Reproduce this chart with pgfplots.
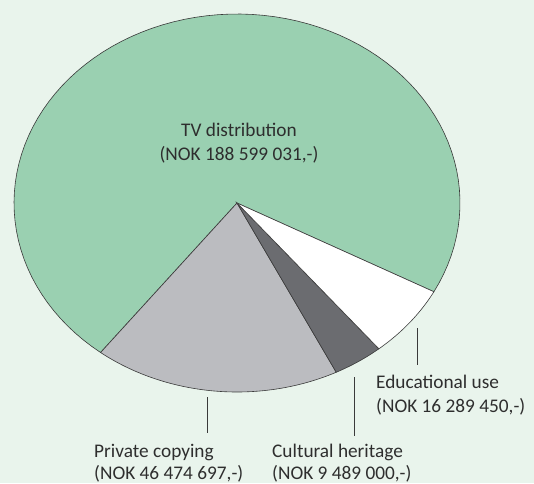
\documentclass[border=0pt]{standalone}
\usepackage{fontspec}
\setmainfont{Carlito}
\usepackage{pgfplots}
\pgfplotsset{compat=1.18}

\definecolor{bgc}{HTML}{E9F4EC}
\definecolor{tv}{HTML}{9AD0B1}
\definecolor{priv}{HTML}{BBBCC0}
\definecolor{cult}{HTML}{6B6C70}
\definecolor{edge}{HTML}{3A3A3A}
\definecolor{txt}{HTML}{2E2E2E}

% values in million NOK
\def\vEdu{16.28945}
\def\vCult{9.489}
\def\vPriv{46.474697}
\def\vTV{188.599031}

\pgfmathsetmacro\tot{\vEdu+\vCult+\vPriv+\vTV}
\pgfmathsetmacro\aA{-28}
\pgfmathsetmacro\aB{\aA-360*(\vEdu/\tot)}
\pgfmathsetmacro\aC{\aB-360*(\vCult/\tot)}
\pgfmathsetmacro\aD{\aC-360*(\vPriv/\tot)}
\pgfmathsetmacro\aE{\aD-360*(\vTV/\tot)}

% wedge: from angle #1 to #2 (ascending), colour #3
\newcommand\slice[3]{%
  \addplot[fill=#3, draw=edge, line width=0.6pt, domain=#1:#2, samples=90, variable=\t]
    ({237+223*cos(t)},{280+189*sin(t)}) -- (237,280) -- cycle;
}

\begin{document}
\begin{tikzpicture}[font=\fontsize{19.3}{25}\selectfont]
\begin{axis}[
  scale only axis, width=534pt, height=483pt,
  xmin=0, xmax=534, ymin=0, ymax=483,
  hide axis, clip=false,
  ]
  \fill[bgc] (0,0) rectangle (534,483);
  \slice{\aE}{\aD}{tv}
  \slice{\aD}{\aC}{priv}
  \slice{\aC}{\aB}{cult}
  \slice{\aB}{\aA}{white}

  \node[anchor=base, txt] at (239,347) {TV distribution};
  \node[anchor=base, txt] at (239,323) {(NOK 188 599 031,-)};

  \node[anchor=base west, txt, inner sep=0pt] at (376,95) {Educational use};
  \node[anchor=base west, txt, inner sep=0pt] at (376,71) {(NOK 16 289 450,-)};
  \node[anchor=base west, txt, inner sep=0pt] at (94,26) {Private copying};
  \node[anchor=base west, txt, inner sep=0pt] at (94,4) {(NOK 46 474 697,-)};
  \node[anchor=base west, txt, inner sep=0pt] at (272,26) {Cultural heritage};
  \node[anchor=base west, txt, inner sep=0pt] at (272,4) {(NOK 9 489 000,-)};

  \draw[edge, line width=0.6pt] (417,155) -- (417,118);
  \draw[edge, line width=0.6pt] (354,106) -- (354,47);
  \draw[edge, line width=0.6pt] (207,86) -- (207,50);
\end{axis}
\pgfresetboundingbox
\useasboundingbox (0,0) rectangle (534pt,483pt);
\end{tikzpicture}
\end{document}
